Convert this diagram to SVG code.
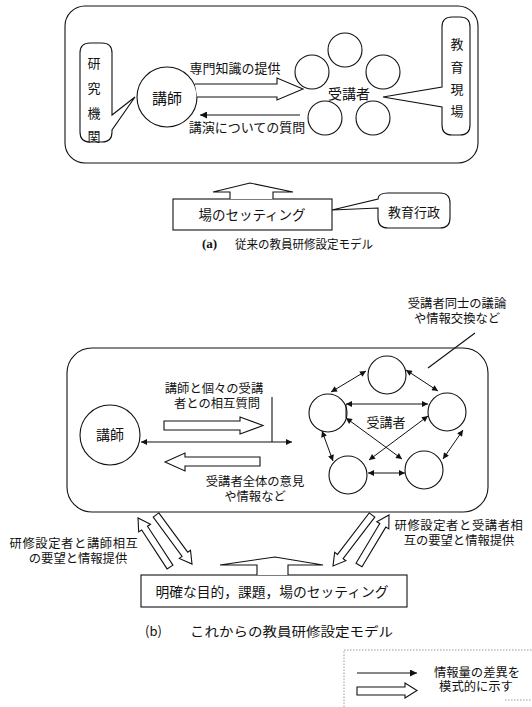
<svg xmlns="http://www.w3.org/2000/svg" width="532" height="707" viewBox="0 0 532 707">
<style>
.ln{fill:none;stroke:#111;stroke-width:1.1}
.sh{fill:#fff;stroke:#111;stroke-width:1.1;stroke-linejoin:miter}
.t{font-family:"Noto Sans CJK JP","Noto Sans",sans-serif;fill:#111;font-size:13px;text-anchor:middle;dominant-baseline:central}
.s{font-family:"Liberation Sans","Noto Sans CJK JP",sans-serif;font-size:12.3px}
.cap{font-family:"Noto Sans CJK JP","Noto Sans",sans-serif;fill:#111;font-size:13px;dominant-baseline:central}
.dbl{fill:none;stroke:#111;stroke-width:1;marker-start:url(#ah);marker-end:url(#ah)}
</style>
<defs>
<marker id="ah" viewBox="0 0 10 10" refX="10" refY="5" markerWidth="8" markerHeight="6" markerUnits="userSpaceOnUse" orient="auto-start-reverse">
<path d="M0,0 L10,5 L0,10 Z" fill="#111"/>
</marker>
<marker id="ahb" viewBox="0 0 10 10" refX="10" refY="5" markerWidth="10" markerHeight="7" markerUnits="userSpaceOnUse" orient="auto">
<path d="M0,0 L10,5 L0,10 Z" fill="#111"/>
</marker>
</defs>

<!-- ===== (a) ===== -->
<g id="frame-a"><rect x="65" y="6" width="413" height="157" rx="20" class="ln"/></g>

<g id="kenkyu-kikan">
<path class="sh" d="M90,43 H102 Q112,43 112,53 V115 L135,97 L112,130 V132 Q112,142 102,142 H90 Q80,142 80,132 V53 Q80,43 90,43 Z"/>
<text class="t" x="94" y="62">研</text>
<text class="t" x="94" y="87">究</text>
<text class="t" x="94" y="112">機</text>
<text class="t" x="94" y="135">関</text>
</g>

<g id="koshi-a">
<circle cx="167" cy="97" r="30" class="ln"/>
<text class="t" x="167" y="97" style="font-size:15px">講師</text>
</g>

<g id="jukosha-a">
<circle cx="345" cy="50" r="17" class="ln"/>
<circle cx="312" cy="72" r="17" class="ln"/>
<circle cx="383" cy="72" r="17" class="ln"/>
<circle cx="325" cy="118" r="17" class="ln"/>
<circle cx="373" cy="118" r="17" class="ln"/>
<text class="t" x="349" y="93" style="font-size:14px">受講者</text>
</g>

<g id="kyoiku-genba">
<path class="sh" d="M452,17 H460 Q470,17 470,27 V125 Q470,135 460,135 H452 Q442,135 442,125 V107 L383,97 L442,87 V27 Q442,17 452,17 Z"/>
<text class="t" x="457" y="43">教</text>
<text class="t" x="457" y="66">育</text>
<text class="t" x="457" y="88">現</text>
<text class="t" x="457" y="110">場</text>
</g>

<g id="ba-setting-a">
<rect x="173" y="199" width="159" height="31" class="ln"/>
<text class="t" x="252" y="214" style="font-size:13.5px">場のセッティング</text>
</g>

<g id="kyoiku-gyosei">
<path class="sh" d="M388,193 H440 Q450,193 450,203 V218 Q450,228 440,228 H388 Q378,228 378,218 V208 L332,210 L378,199 Q378,193 388,193 Z"/>
<text class="t" x="414" y="211">教育行政</text>
</g>

<g id="connectors-a">
<path class="sh" d="M195,84 H277 V78 L303,89 L277,100 V97 H197"/>
<line x1="300" y1="115" x2="200" y2="115" stroke="#111" stroke-width="1.2" marker-end="url(#ahb)"/>
<path class="sh" d="M230,199 V192 H213 L250,183 L293,192 H273 V199"/>
<text class="t" x="235" y="67">専門知識の提供</text>
<text class="t" x="247" y="126">講演についての質問</text>
</g>

<g id="caption-a">
<text class="cap" x="202" y="243" style="font-family:'Liberation Serif',serif;font-weight:bold">(a)</text>
<text class="cap" x="235" y="243" textLength="138" lengthAdjust="spacingAndGlyphs" style="font-size:12px">従来の教員研修設定モデル</text>
</g>

<!-- ===== (b) ===== -->
<g id="frame-b"><rect x="67" y="348" width="421" height="164" rx="25" class="ln"/></g>

<g id="note-b">
<text class="t s" x="457" y="304">受講者同士の議論</text>
<text class="t s" x="457" y="318.5">や情報交換など</text>
<line x1="475" y1="333" x2="428" y2="368" class="ln"/>
</g>

<g id="koshi-b">
<circle cx="110" cy="435" r="30" class="ln"/>
<text class="t" x="110" y="434" style="font-size:14px">講師</text>
</g>

<g id="jukosha-b">
<circle cx="387" cy="375" r="19" class="ln"/>
<circle cx="328" cy="413" r="19" class="ln"/>
<circle cx="447" cy="412" r="19" class="ln"/>
<circle cx="348" cy="475" r="19" class="ln"/>
<circle cx="424" cy="470" r="19" class="ln"/>
<text class="t" x="386" y="421">受講者</text>
</g>

<g id="ba-setting-b">
<rect x="141" y="575" width="266" height="32" class="ln"/>
<text class="t" x="272" y="591" textLength="233" lengthAdjust="spacingAndGlyphs" style="font-size:13.5px">明確な目的，課題，場のセッティング</text>
</g>

<g id="connectors-b">
<text class="t s" x="214" y="389">講師と個々の受講</text>
<text class="t s" x="217" y="403.5">者との相互質問</text>
<line x1="272" y1="397" x2="272" y2="442" class="ln"/>
<line x1="141" y1="442" x2="292" y2="442" class="dbl" style="stroke-width:1.2"/>
<path class="sh" d="M164,421 H240 V417 L263,425.5 L240,434 V430 H164 Z"/>
<path class="sh" d="M260,457 H185 V453 L165,462 L185,471 V466 H260 Z"/>
<text class="t s" x="255" y="482">受講者全体の意見</text>
<text class="t s" x="255" y="496.5">や情報など</text>

<line x1="366" y1="371" x2="331" y2="392" class="dbl"/>
<line x1="406" y1="370" x2="438" y2="391" class="dbl"/>
<line x1="346" y1="404" x2="428" y2="404" class="dbl"/>
<line x1="346" y1="404" x2="346" y2="418" class="ln" style="stroke-width:1"/>
<line x1="346" y1="418" x2="402" y2="459" class="dbl"/>
<line x1="428" y1="416" x2="369" y2="460" class="dbl"/>
<line x1="322" y1="431" x2="333" y2="461" class="dbl"/>
<line x1="463" y1="430" x2="443" y2="459" class="dbl"/>
<line x1="368" y1="473" x2="405" y2="473" class="dbl"/>

<path class="sh" d="M172.9,565.1 L147.5,526.2 L150.5,524.3 L138,518 L138.7,531.9 L141.7,530 L167.1,568.9 Z"/>
<path class="sh" d="M158.8,512.9 L187.7,552.2 L190.5,550.2 L192,564 L179.3,558.4 L182.1,556.4 L153.2,517.1 Z"/>
<path class="sh" d="M374.8,517.1 L343.1,558.6 L345.9,560.7 L333,566 L334.7,552.2 L337.5,554.4 L369.2,512.9 Z"/>
<path class="sh" d="M362,566.8 L385.8,527.1 L388.8,528.9 L389,515 L376.8,521.7 L379.8,523.5 L356,563.2 Z"/>
<path class="sh" d="M257,575 V565 H220 L275,557 L323,565 H288 V575"/>

<text class="t s" x="74" y="544" style="letter-spacing:0.6px">研修設定者と講師相互</text>
<text class="t s" x="78" y="558.5">の要望と情報提供</text>
<text class="t s" x="459" y="526" style="letter-spacing:0.6px">研修設定者と受講者相</text>
<text class="t s" x="459" y="540.5">互の要望と情報提供</text>
</g>

<g id="caption-b">
<text class="cap" x="145" y="630">(b)</text>
<text class="cap" x="190" y="630" textLength="203" lengthAdjust="spacingAndGlyphs">これからの教員研修設定モデル</text>
</g>

<g id="legend">
<path d="M344,707 V650 H532 M505,700 H532" fill="none" stroke="#999" stroke-width="1" stroke-dasharray="1.5,1.5"/>
<line x1="357" y1="673" x2="417" y2="673" stroke="#111" stroke-width="1.2" marker-end="url(#ahb)"/>
<path class="sh" d="M357,687 H405 V683 L417,690.5 L405,698 V695 H357 Z"/>
<text class="t s" x="477" y="672.5">情報量の差異を</text>
<text class="t s" x="476" y="687">模式的に示す</text>
</g>
</svg>
